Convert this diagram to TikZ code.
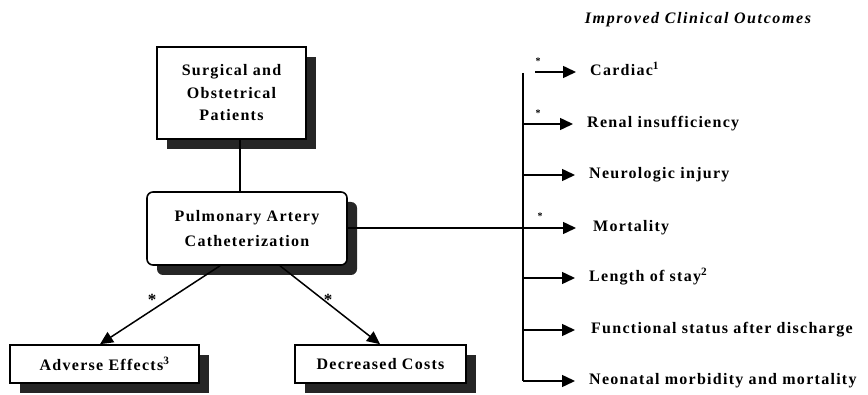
\documentclass[tikz,border=0pt]{standalone}
\usepackage{fontspec}
\setmainfont{Liberation Serif}
\newfontfamily\lblfont{Liberation Serif}[LetterSpace=8.0]
\newfontfamily\ttlfont{Liberation Serif}[LetterSpace=10.0]
\usetikzlibrary{arrows.meta,shadows,calc}
\begin{document}
\begin{tikzpicture}[x=1pt,y=1pt,
  boxstyle/.style={draw=black, line width=1.6pt, fill=white, inner sep=0pt, align=center,
    font=\lblfont\bfseries\fontsize{16}{22.5}\selectfont,
    drop shadow={shadow xshift=10pt, shadow yshift=-10pt, fill=black!85, opacity=1}},
  conn/.style={line width=1.5pt},
  arr/.style={line width=1.5pt, -{Triangle[length=13pt,width=12pt]}},
  outlbl/.style={anchor=west, inner sep=0pt, text height=10pt, text depth=3pt,
    font=\lblfont\bfseries\fontsize{16}{18}\selectfont},
  star/.style={inner sep=0pt, font=\bfseries\fontsize{10}{10}\selectfont},
  bigstar/.style={inner sep=0pt, font=\bfseries\fontsize{17}{17}\selectfont}]
\useasboundingbox (0,0) rectangle (868,394);

% boxes
\node[boxstyle, minimum width=149pt, minimum height=92pt] (top) at (231.5,301)
  {Surgical and\\Obstetrical\\Patients};
\node[boxstyle, rounded corners=6pt, minimum width=200pt, minimum height=73pt] (pac) at (247,165.5)
  {Pulmonary Artery\\[2pt]Catheterization};
\node[boxstyle, minimum width=189pt, minimum height=38pt] (adv) at (104.5,30)
  {Adverse Effects\textsuperscript{3}};
\node[boxstyle, minimum width=171pt, minimum height=38pt] (dec) at (380.5,30)
  {Decreased Costs};

% title
\node[inner sep=0pt, font=\ttlfont\bfseries\itshape\fontsize{16}{18}\selectfont] (title) at (698,374)
  {Improved Clinical Outcomes};

% outcome labels
\node[outlbl] (card) at (590,322) {Cardiac\textsuperscript{1}};
\node[outlbl] (renal) at (587,270) {Renal insufficiency};
\node[outlbl] (neuro) at (589,219) {Neurologic injury};
\node[outlbl] (mort) at (593,166) {Mortality};
\node[outlbl] (stay) at (589,116) {Length of stay\textsuperscript{2}};
\node[outlbl] (func) at (591,64) {Functional status after discharge};
\node[outlbl] (neo) at (589,13) {Neonatal morbidity and mortality};

% bus
\coordinate (bustop) at (523,321);
\draw[conn] (bustop) -- (bustop |- neo.west);

% connectors
\draw[conn] ([xshift=8.5pt]top.south) -- ([xshift=8.5pt]top.south |- pac.north);
\draw[arr] ([xshift=-27pt]pac.south) -- ([xshift=-4.5pt]adv.north);
\draw[arr] ([xshift=33pt]pac.south) -- ([xshift=-0.5pt]dec.north);
\node[bigstar] (s1) at (152,94) {*};
\node[bigstar] (s2) at (328,94) {*};

\draw[arr, shorten >=14pt] ([xshift=12pt]bustop |- card.west) -- (card.west);
\draw[arr, shorten >=14pt] (bustop |- renal.west) -- (renal.west);
\draw[arr, shorten >=14pt] (bustop |- neuro.west) -- (neuro.west);
\draw[arr, shorten >=17pt] (pac.east |- mort.west) -- (mort.west);
\draw[arr, shorten >=14pt] (bustop |- stay.west) -- (stay.west);
\draw[arr, shorten >=16pt] (bustop |- func.west) -- (func.west);
\draw[arr, shorten >=14pt] (bustop |- neo.west) -- (neo.west);

\node[star] (s3) at (538,333) {*};
\node[star] (s4) at (538,281) {*};
\node[star] (s5) at (540,178) {*};
\end{tikzpicture}
\end{document}
